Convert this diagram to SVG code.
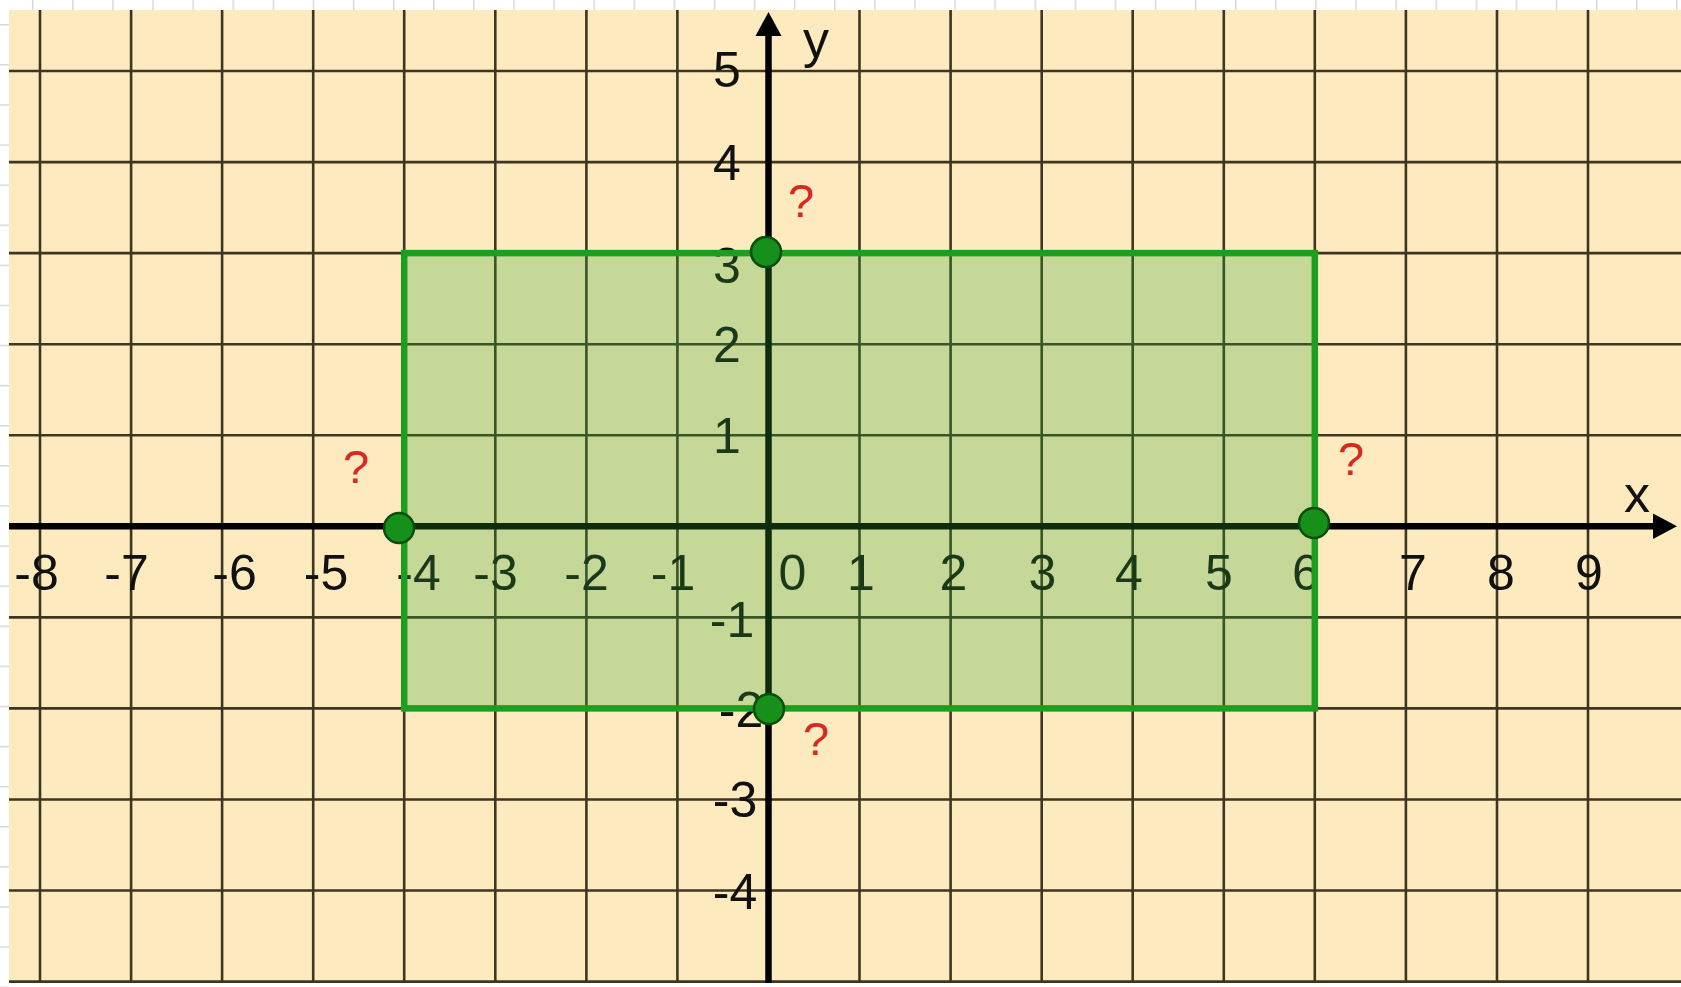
<svg xmlns="http://www.w3.org/2000/svg" width="1681" height="987" viewBox="0 0 1681 987">
  <defs>
    <pattern id="tickTop" patternUnits="userSpaceOnUse" x="32" y="0" width="40.1" height="10">
      <rect x="0" y="0" width="1.5" height="10" fill="#d8d8d8"/>
    </pattern>
    <pattern id="tickLeft" patternUnits="userSpaceOnUse" x="0" y="24" width="9" height="40.1">
      <rect x="0" y="0" width="9" height="1.5" fill="#d8d8d8"/>
    </pattern>
  </defs>
  <style>
    .grid line { stroke: #3d3621; stroke-width: 2.6; }
    .axis { stroke: #000; stroke-width: 6.5; fill: none; }
    .arrow { fill: #000; }
    .num { font-family: "Liberation Sans", Arial, sans-serif; font-size: 50px; fill: #111; text-anchor: middle; }
    .axlab { font-family: "Liberation Sans", Arial, sans-serif; font-size: 52px; fill: #111; text-anchor: middle; }
    .q { font-family: "Liberation Sans", Arial, sans-serif; font-size: 47px; fill: #d8281f; text-anchor: middle; }
    .pt { fill: #17901b; stroke: #0b4d0b; stroke-width: 2.5; }
  </style>
  <rect x="0" y="0" width="1681" height="987" fill="#ffffff"/>
  <rect x="0" y="0" width="1681" height="10" fill="url(#tickTop)"/>
  <rect x="0" y="10" width="9" height="977" fill="url(#tickLeft)"/>
  <rect x="9" y="10" width="1672" height="973" fill="#fdebbf"/>

  <g class="grid" id="grid">
    <line x1="40" y1="10" x2="40" y2="983"/>
    <line x1="131.1" y1="10" x2="131.1" y2="983"/>
    <line x1="222.1" y1="10" x2="222.1" y2="983"/>
    <line x1="313.2" y1="10" x2="313.2" y2="983"/>
    <line x1="404.2" y1="10" x2="404.2" y2="983"/>
    <line x1="495.3" y1="10" x2="495.3" y2="983"/>
    <line x1="586.4" y1="10" x2="586.4" y2="983"/>
    <line x1="677.4" y1="10" x2="677.4" y2="983"/>
    <line x1="859.5" y1="10" x2="859.5" y2="983"/>
    <line x1="950.6" y1="10" x2="950.6" y2="983"/>
    <line x1="1041.7" y1="10" x2="1041.7" y2="983"/>
    <line x1="1132.7" y1="10" x2="1132.7" y2="983"/>
    <line x1="1223.8" y1="10" x2="1223.8" y2="983"/>
    <line x1="1314.8" y1="10" x2="1314.8" y2="983"/>
    <line x1="1405.9" y1="10" x2="1405.9" y2="983"/>
    <line x1="1497" y1="10" x2="1497" y2="983"/>
    <line x1="1588" y1="10" x2="1588" y2="983"/>
    <line x1="9" y1="71" x2="1681" y2="71"/>
    <line x1="9" y1="162.1" x2="1681" y2="162.1"/>
    <line x1="9" y1="253.1" x2="1681" y2="253.1"/>
    <line x1="9" y1="344.2" x2="1681" y2="344.2"/>
    <line x1="9" y1="435.2" x2="1681" y2="435.2"/>
    <line x1="9" y1="617.4" x2="1681" y2="617.4"/>
    <line x1="9" y1="708.4" x2="1681" y2="708.4"/>
    <line x1="9" y1="799.5" x2="1681" y2="799.5"/>
    <line x1="9" y1="890.5" x2="1681" y2="890.5"/>
    <line x1="9" y1="981.6" x2="1681" y2="981.6"/>
  </g>

  <g id="axes">
    <line class="axis" x1="9" y1="526.3" x2="1658" y2="526.3"/>
    <polygon class="arrow" points="1677,526.3 1653,513.5 1653,539.1"/>
    <line class="axis" x1="768.5" y1="983" x2="768.5" y2="32"/>
    <polygon class="arrow" points="768.5,12 755.5,36 781.5,36"/>
    <text class="axlab" x="1637" y="512">x</text>
    <text class="axlab" x="816" y="57">y</text>
  </g>

  <g id="x-labels">
    <text class="num" x="36.5" y="590">-8</text>
    <text class="num" x="126.5" y="590">-7</text>
    <text class="num" x="234.5" y="590">-6</text>
    <text class="num" x="326" y="590">-5</text>
    <text class="num" x="418.5" y="590">-4</text>
    <text class="num" x="495.5" y="590">-3</text>
    <text class="num" x="586.5" y="590">-2</text>
    <text class="num" x="673" y="590">-1</text>
    <text class="num" x="792.5" y="590">0</text>
    <text class="num" x="861" y="590">1</text>
    <text class="num" x="953.5" y="590">2</text>
    <text class="num" x="1042.5" y="590">3</text>
    <text class="num" x="1129" y="590">4</text>
    <text class="num" x="1219" y="590">5</text>
    <text class="num" x="1306" y="590">6</text>
    <text class="num" x="1413" y="590">7</text>
    <text class="num" x="1501" y="590">8</text>
    <text class="num" x="1589" y="590">9</text>
  </g>

  <g id="y-labels">
    <text class="num" x="727" y="87">5</text>
    <text class="num" x="727" y="180">4</text>
    <text class="num" x="727" y="283">3</text>
    <text class="num" x="727" y="362">2</text>
    <text class="num" x="727" y="453">1</text>
    <text class="num" x="732" y="637">-1</text>
    <text class="num" x="741" y="727">-2</text>
    <text class="num" x="735" y="817">-3</text>
    <text class="num" x="735" y="909">-4</text>
  </g>

  <g id="rectangle">
    <rect x="404.2" y="253.1" width="910.6" height="455.3" fill="#30a730" fill-opacity="0.27"/>
    <rect x="404.2" y="253.1" width="910.6" height="455.3" fill="none" stroke="#1e9e1e" stroke-width="6.5"/>
  </g>

  <g id="point-left">
    <circle class="pt" cx="399" cy="528" r="15"/>
    <text class="q" x="356" y="483">?</text>
  </g>
  <g id="point-right">
    <circle class="pt" cx="1314" cy="523" r="15"/>
    <text class="q" x="1351" y="475">?</text>
  </g>
  <g id="point-top">
    <circle class="pt" cx="766" cy="252" r="15"/>
    <text class="q" x="801" y="217">?</text>
  </g>
  <g id="point-bottom">
    <circle class="pt" cx="769" cy="709" r="15"/>
    <text class="q" x="816" y="755">?</text>
  </g>
</svg>
